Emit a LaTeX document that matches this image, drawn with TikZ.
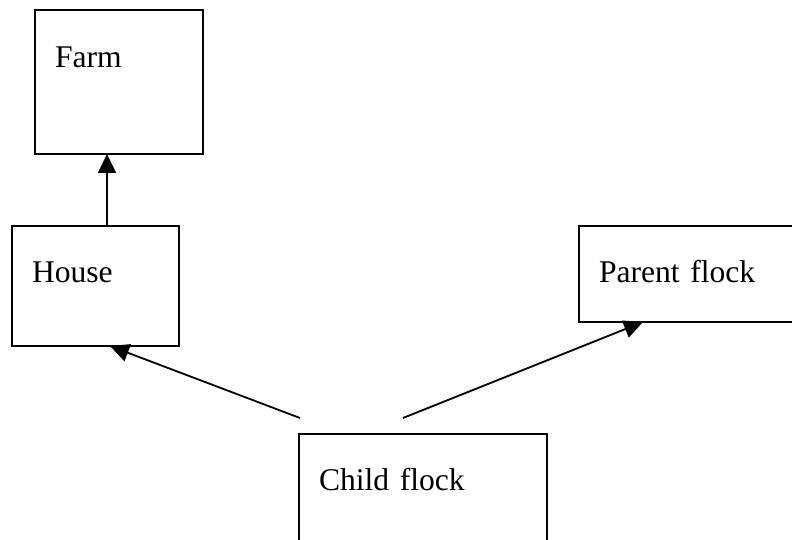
\documentclass[tikz,border=0pt]{standalone}
\usepackage{fontspec}
\setmainfont{Liberation Serif}
\usetikzlibrary{arrows.meta}

\tikzset{
  box/.style={draw, line width=1.6pt, anchor=north west, outer sep=0pt,
    inner xsep=20pt, inner ysep=0pt, align=left},
  arr/.style={line width=1.8pt, -{Triangle[length=19pt,width=18pt]}}
}

\begin{document}
\begin{tikzpicture}[x=1pt,y=-1pt,font=\fontsize{31.6}{38}\selectfont]
\useasboundingbox (0,0) rectangle (792,540);
\clip (0,0) rectangle (792,540);

\node[box, text width=128pt, text height=58pt, text depth=86pt] (farm) at (35,10) {Farm};
\node[box, text width=127pt, text height=56pt, text depth=64pt] (house) at (12,226) {House};
\node[box, text width=181pt, text height=56pt, text depth=40pt] (parent) at (579,226) {Parent flock};
\node[box, text width=208pt, text height=56pt, text depth=80pt] (child) at (299,434) {Child flock};

\coordinate (hs) at (300,418);
\coordinate (ps) at (403,418);

\draw[arr] ([xshift=11.5pt]house.north) -- ([xshift=11.5pt]house.north |- farm.south);
\draw[arr] (hs) -- ([xshift=98pt]house.south west);
\draw[arr] (ps) -- ([xshift=64pt]parent.south west);

\end{tikzpicture}
\end{document}
